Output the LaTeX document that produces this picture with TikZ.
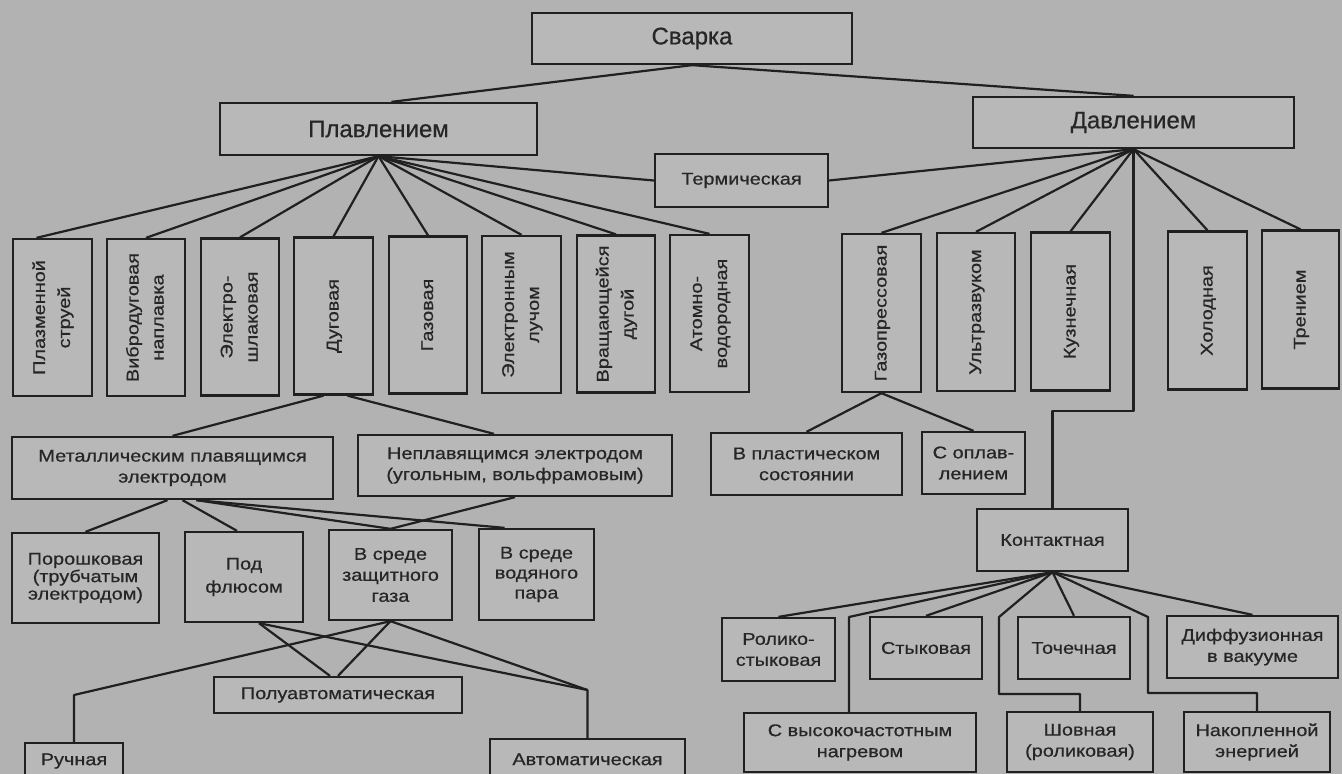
\documentclass[tikz,border=0pt]{standalone}
\usepackage{graphicx}
\usepackage{fontspec}
\setmainfont[FakeBold=0.6]{Liberation Sans}
\newfontfamily\lblfont[FakeStretch=1.17,FakeBold=0.6]{Liberation Sans}
\usetikzlibrary{calc}
\definecolor{bgc}{RGB}{178,178,178}
\definecolor{boxc}{RGB}{184,184,184}
\definecolor{inkc}{RGB}{32,32,32}
\definecolor{txtc}{RGB}{38,38,38}
\newcommand\vtxt[1]{\rotatebox{90}{\fontsize{17}{25}\selectfont\begin{tabular}{@{}c@{}}#1\end{tabular}}}
\begin{document}
\begin{tikzpicture}[x=1pt,y=-1pt,
  box/.style={draw=inkc, line width=2.3pt, fill=boxc, inner sep=0pt, align=center, text=txtc,
    font=\lblfont\fontsize{17}{21}\selectfont},
  titlebox/.style={box, font=\fontsize{24}{28}\selectfont},
  vbox/.style={box, minimum width=79pt, minimum height=157pt},
  link/.style={draw=inkc, line width=2.2pt, line join=round}]
\useasboundingbox (0,0) rectangle (1342,774);
\clip (0,0) rectangle (1342,774);
\fill[bgc] (0,0) rectangle (1342,774);

% top level
\node[titlebox, minimum width=320pt, minimum height=51pt] (svarka) at (692,38.5) {Сварка};
\node[titlebox, minimum width=317pt, minimum height=52pt] (plav) at (378.5,129) {Плавлением};
\node[titlebox, minimum width=321pt, minimum height=51pt] (davl) at (1133.5,122.5) {Давлением};
\node[box, minimum width=173pt, minimum height=53pt] (term) at (741.5,180.5) {Термическая};

% fusion leaves
\node[vbox] (plazm) at (52.5,317.5) {\vtxt{Плазменной\\струей}};
\node[vbox, minimum width=78pt] (vibro) at (146,317.5) {\vtxt{Вибродуговая\\наплавка}};
\node[vbox, minimum width=78pt] (elshl) at (240,317) {\vtxt{Электро-\\шлаковая}};
\node[vbox] (dug) at (333.5,316) {\vtxt{Дуговая}};
\node[vbox, minimum width=78pt] (gaz) at (428,315) {\vtxt{Газовая}};
\node[vbox] (elluch) at (521.5,314.5) {\vtxt{Электронным\\лучом}};
\node[vbox, minimum width=78pt] (vrash) at (616,314) {\vtxt{Вращающейся\\дугой}};
\node[vbox] (atom) at (709.5,313.5) {\vtxt{Атомно-\\водородная}};

% pressure leaves
\node[vbox, minimum height=158pt] (gazpress) at (881.5,313) {\vtxt{Газопрессовая}};
\node[vbox, minimum width=78pt, minimum height=158pt] (ultra) at (976,312) {\vtxt{Ультразвуком}};
\node[vbox, minimum height=158pt] (kuzn) at (1070.5,311.5) {\vtxt{Кузнечная}};
\node[vbox, minimum height=158pt] (holod) at (1207.5,310.5) {\vtxt{Холодная}};
\node[vbox, minimum width=77pt, minimum height=158pt] (tren) at (1300.5,309.5) {\vtxt{Трением}};

\node[box, minimum width=191pt, minimum height=62pt] (plast) at (806.5,464) {В пластическом\\состоянии};
\node[box, minimum width=103pt, minimum height=62pt] (oplav) at (973.5,463) {С оплав-\\лением};

% contact group
\node[box, minimum width=151pt, minimum height=62pt] (kont) at (1052.5,540) {Контактная};
\node[box, minimum width=113pt, minimum height=63pt] (roliko) at (778.5,649.5) {Ролико-\\стыковая};
\node[box, minimum width=112pt, minimum height=62pt] (styk) at (926,648) {Стыковая};
\node[box, minimum width=112pt, minimum height=62pt] (toch) at (1074,648) {Точечная};
\node[box, minimum width=171pt, minimum height=62pt] (diff) at (1252.5,647) {Диффузионная\\в вакууме};
\node[box, minimum width=232pt, minimum height=59pt] (hf) at (860,742.5) {С высокочастотным\\нагревом};
\node[box, minimum width=146pt, minimum height=60pt] (shov) at (1080,742) {Шовная\\(роликовая)};
\node[box, minimum width=146pt, minimum height=60pt] (nakop) at (1257,742) {Накопленной\\энергией};

% arc group
\node[box, minimum width=321pt, minimum height=62pt] (metal) at (172.5,468) {Металлическим плавящимся\\электродом};
\node[box, minimum width=314pt, minimum height=61pt] (neplav) at (515,465.5) {Неплавящимся электродом\\(угольным, вольфрамовым)};
\node[box, minimum width=147pt, minimum height=90pt, font=\lblfont\fontsize{17}{17.5}\selectfont] (porosh) at (85.5,578) {Порошковая\\(трубчатым\\электродом)};
\node[box, minimum width=118pt, minimum height=90pt, font=\lblfont\fontsize{17}{23}\selectfont] (podfl) at (244,577) {Под\\флюсом};
\node[box, minimum width=123pt, minimum height=90pt] (zashch) at (390.5,575) {В среде\\защитного\\газа};
\node[box, minimum width=115pt, minimum height=91pt, font=\lblfont\fontsize{17}{20}\selectfont] (vodyan) at (536.5,574.5) {В среде\\водяного\\пара};
\node[box, minimum width=248pt, minimum height=36pt] (poluavt) at (338,695) {Полуавтоматическая};
\node[box, anchor=north, minimum width=98pt, text height=22pt, text depth=16pt] (ruch) at (74,742) {Ручная};
\node[box, anchor=north, minimum width=195pt, text height=26pt, text depth=16pt] (avtom) at (587.5,738) {Автоматическая};

% helper coordinates
\coordinate (k1) at (1133.5,411);
\coordinate (k2) at (1052.5,411);
\coordinate (rc) at (74,695);
\coordinate (ac) at (587.5,690);
\coordinate (hfc) at (849,617);
\coordinate (sc1) at (999,617);
\coordinate (sc2) at (999,694);
\coordinate (sc3) at (1080,694);
\coordinate (nc1) at (1148,617);
\coordinate (nc2) at (1148,693);
\coordinate (nc3) at (1257,693);

% connectors
\draw[link] (svarka.south) -- ($(plav.north)+(13,0)$);
\draw[link] (svarka.south) -- (davl.north);
\draw[link] (plav.south) -- (term.west);
\draw[link] (term.east) -- (davl.south);
\draw[link] (plav.south) -- ($(plazm.north)+(-16,0)$);
\foreach \n in {vibro,elshl,dug,gaz,elluch,vrash,atom}
  \draw[link] (plav.south) -- (\n.north);
\foreach \n in {gazpress,ultra,kuzn,holod,tren}
  \draw[link] (davl.south) -- (\n.north);
\draw[link] (davl.south) -- (k1) -- (k2) -- (kont.north);
\draw[link] (gazpress.south) -- (plast.north);
\draw[link] (gazpress.south) -- (oplav.north);

\draw[link] ($(dug.south)+(-10,0)$) -- (metal.north);
\draw[link] ($(dug.south)+(14,0)$) -- ($(neplav.north)+(-21,0)$);
\draw[link] ($(metal.south)+(-5,0)$) -- (porosh.north);
\draw[link] ($(metal.south)+(10,0)$) -- ($(podfl.north)+(-7,0)$);
\draw[link] ($(metal.south)+(24,0)$) -- (zashch.north);
\draw[link] ($(metal.south)+(24,0)$) -- ($(vodyan.north)+(-32,0)$);
\draw[link] (neplav.south) -- (zashch.north);
\draw[link] ($(podfl.south)+(15,0)$) -- ($(poluavt.north)+(-8,0)$);
\draw[link] ($(podfl.south)+(15,0)$) -- (ac) -- (avtom.north);
\draw[link] (zashch.south) -- (poluavt.north);
\draw[link] (zashch.south) -- (ac);
\draw[link] (zashch.south) -- (rc) -- (ruch.north);

\draw[link] (kont.south) -- (roliko.north);
\draw[link] (kont.south) -- (hfc) -- (hfc |- hf.north);
\draw[link] (kont.south) -- (styk.north);
\draw[link] (kont.south) -- (sc1) -- (sc2) -- (sc3) -- (shov.north);
\draw[link] (kont.south) -- (toch.north);
\draw[link] (kont.south) -- (nc1) -- (nc2) -- (nc3) -- (nakop.north);
\draw[link] (kont.south) -- (diff.north);
\end{tikzpicture}
\end{document}
